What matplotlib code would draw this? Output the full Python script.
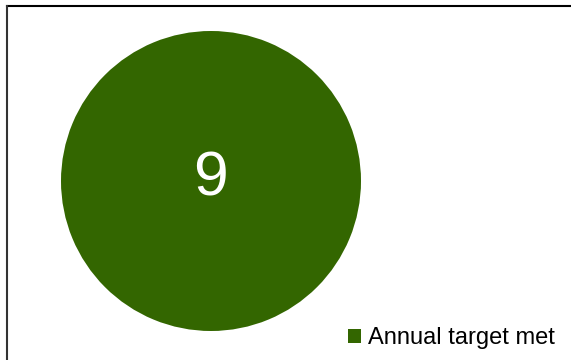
import matplotlib.pyplot as plt
from matplotlib.lines import Line2D
from matplotlib.patches import Patch

# --- dados ---
labels = ["Annual target met"]
values = [9]
colors = ["#336600"]

plt.rcParams['font.family'] = ['Liberation Sans', 'DejaVu Sans']

fig = plt.figure(figsize=(5.71, 3.6), dpi=100)

# pizza (um único setor)
ax = fig.add_axes([61 / 571, 29 / 360, 300 / 571, 300 / 360])
ax.pie(values, colors=colors, startangle=90, counterclock=False)
ax.set_xlim(-1, 1)
ax.set_ylim(-1, 1)
ax.set_aspect('equal')
ax.axis('off')
ax.text(0, 0.01, str(values[0]), color='white', fontsize=45,
        ha='center', va='center')

# bordas (topo e esquerda)
fig.add_artist(Line2D([6.5 / 571, 1], [1 - 5.5 / 360] * 2, color='black', lw=1.5,
                      transform=fig.transFigure))
fig.add_artist(Line2D([6.5 / 571] * 2, [0, 1 - 5.5 / 360], color='#333333', lw=1.5,
                      transform=fig.transFigure))

# legenda
handles = [Patch(facecolor=c, edgecolor='none') for c in colors]
fig.legend(handles, labels, loc='lower right', bbox_to_anchor=(555 / 571, 11 / 360),
           frameon=False, fontsize=17, handlelength=0.55, handleheight=0.55,
           handletextpad=0.3, borderpad=0, borderaxespad=0)

fig.savefig('out.png', dpi=100)
